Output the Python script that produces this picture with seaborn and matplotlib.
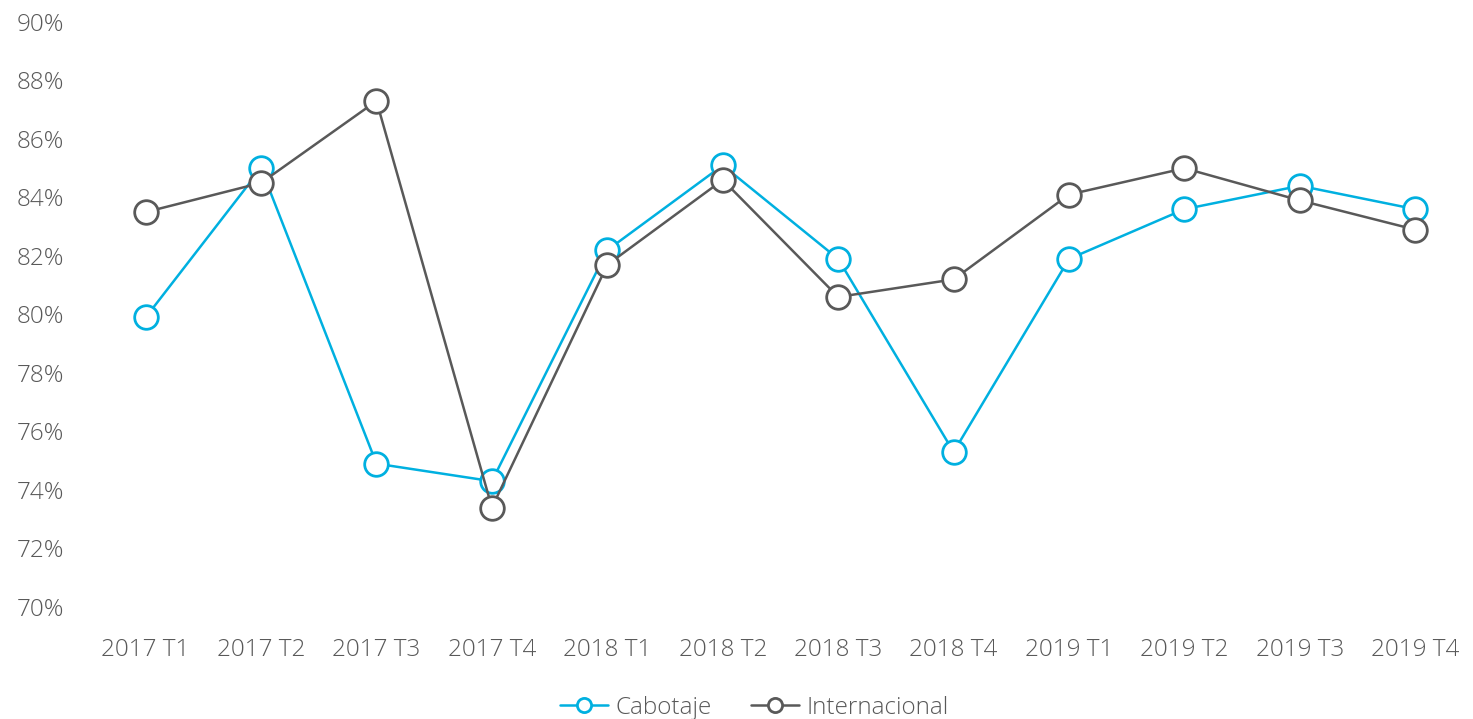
import pandas as pd
import seaborn as sns
import matplotlib.pyplot as plt

periods = ["2017 T1", "2017 T2", "2017 T3", "2017 T4",
           "2018 T1", "2018 T2", "2018 T3", "2018 T4",
           "2019 T1", "2019 T2", "2019 T3", "2019 T4"]
cabotaje = [79.9, 85.0, 74.9, 74.3, 82.2, 85.1, 81.9, 75.3, 81.9, 83.6, 84.4, 83.6]
internacional = [83.5, 84.5, 87.3, 73.4, 81.7, 84.6, 80.6, 81.2, 84.1, 85.0, 83.9, 82.9]

series = {"Cabotaje": (cabotaje, "#00B0E0"), "Internacional": (internacional, "#595959")}

sns.set_style("white")
plt.rcParams["font.family"] = ["Open Sans", "DejaVu Sans"]
plt.rcParams["font.weight"] = "light"
text_color = "#595959"

fig = plt.figure(figsize=(14.73, 7.19), dpi=100)
ax = fig.add_axes([0.0597, 0.1558, 0.9403, 0.8136])

for name, (vals, color) in series.items():
    df = pd.DataFrame({"period": periods, "value": vals})
    sns.lineplot(data=df, x="period", y="value", ax=ax, color=color, label=name,
                 linewidth=1.8, marker="o", markersize=17, markerfacecolor="white",
                 markeredgecolor=color, markeredgewidth=2, sort=False)

ax.set_xlim(-0.5, len(periods) - 0.5)
ax.set_ylim(70, 90)
ax.set_yticks(range(70, 91, 2))
ax.set_yticklabels([f"{v}%" for v in range(70, 91, 2)])
ax.set_xlabel("")
ax.set_ylabel("")
ax.tick_params(axis="both", length=0, labelsize=17.5, labelcolor=text_color)
ax.tick_params(axis="x", pad=22)
ax.tick_params(axis="y", pad=17)
for s in ax.spines.values():
    s.set_visible(False)

leg = ax.legend(loc="center", bbox_to_anchor=(0.481, -0.172), ncol=2, frameon=False,
                prop={"size": 17.5, "weight": "light"}, markerscale=0.6,
                handlelength=2.0, columnspacing=1.6, handletextpad=0.3,
                labelcolor=text_color)

fig.savefig("out.png", dpi=100)
